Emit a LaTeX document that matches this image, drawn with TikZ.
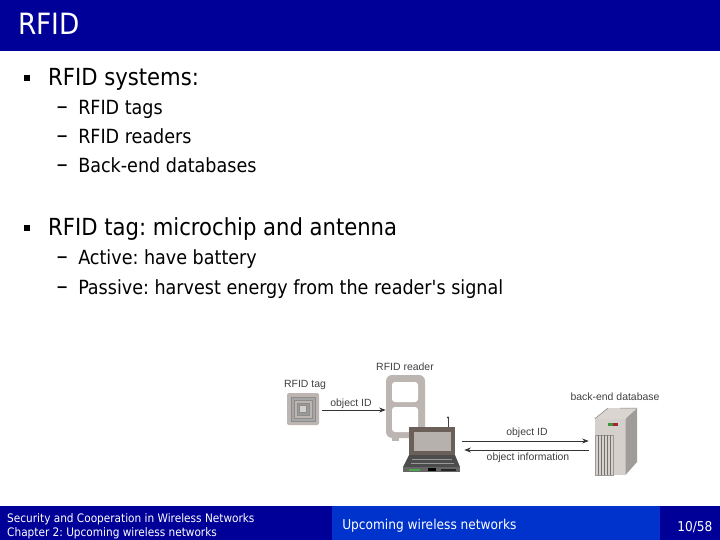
\documentclass[tikz,border=0pt]{standalone}
\usepackage{fontspec}
\setmainfont{DejaVu Sans Condensed}
\newfontfamily\figfont{Liberation Sans}
\usetikzlibrary{arrows.meta,positioning}
\definecolor{barblue}{HTML}{000099}
\definecolor{midblue}{HTML}{0033CC}
\definecolor{casegray}{HTML}{BDB5B1}
\definecolor{darkcase}{HTML}{6B5F5A}
\definecolor{palecase}{HTML}{D6D0CC}
\tikzset{
    >={Stealth[]},
    every picture/.style={line width=0.5pt},
    lvlone/.style={anchor=base west,inner sep=0pt,font=\fontsize{23.6}{26}\selectfont},
    lvltwo/.style={anchor=base west,inner sep=0pt,font=\fontsize{19.6}{22}\selectfont},
    dashmark/.style={anchor=base west,inner sep=0pt,font=\fontsize{25}{26}\selectfont},
    foot/.style={anchor=base west,inner sep=0pt,text=white,font=\fontsize{11.75}{14}\selectfont},
    figlabel/.style={inner sep=0pt,text=black!75,font=\figfont\fontsize{10.5}{12}\selectfont},
    square/.style={fill=black,minimum size=6bp,inner sep=0pt},
    link/.style={->,black!80,line width=0.8pt}
}

\begin{document}
\frenchspacing
\begin{tikzpicture}[x=1bp,y=-1bp]
        \useasboundingbox (0,0) rectangle (720,540);
        % Title bar
        \fill[barblue] (0,0) rectangle (720,51);
        \node[anchor=base west,inner sep=0pt,text=white,font=\fontsize{29.4}{32}\selectfont] (title) at (18,35) {RFID};

        % Footer
        \fill[barblue] (0,506) rectangle (720,540);
        \fill[midblue] (332,506) rectangle (660,540);
        \node[foot] (foota) at (7,522) {Security and Cooperation in Wireless Networks};
        \node[foot] (footb) at (7,536) {Chapter 2: Upcoming wireless networks};
        \node[foot,font=\fontsize{13.6}{16}\selectfont] (footc) at (342,529) {Upcoming wireless networks};
        \node[foot,font=\fontsize{13.6}{16}\selectfont] (footd) at (677,531) {10/58};

        % Bullets
        \node[square] (ba) at (26.5,78) {};
        \node[lvlone] (systems) at (48,86) {RFID systems:};
        \node[dashmark] at (56.5,115) {--};
        \node[lvltwo] (tags) at (78,115) {RFID tags};
        \node[dashmark] at (56.5,144) {--};
        \node[lvltwo] (readers) at (78,144) {RFID readers};
        \node[dashmark] at (56.5,173) {--};
        \node[lvltwo] (databases) at (78,173) {Back-end databases};
        \node[square] (bb) at (26.5,228) {};
        \node[lvlone] (chip) at (48,236) {RFID tag: microchip and antenna};
        \node[dashmark] at (56.5,265) {--};
        \node[lvltwo] (active) at (78,265) {Active: have battery};
        \node[dashmark] at (56.5,294) {--};
        \node[lvltwo] (passive) at (78,294) {Passive: harvest energy from the reader\textquotesingle s signal};

        % Tag
        \node[fill=casegray,rounded corners=2bp,minimum size=32bp,inner sep=0pt] (tag) at (303,409) {};
        \foreach \s/\c in {24/black!35,18/casegray,12/black!40,7/palecase}
            \node[fill=\c,draw=black!45,minimum size=\s bp,inner sep=0pt] at (tag) {};
        \node[figlabel] at (305,385) {RFID tag};

        % Reader
        \node[fill=casegray,rounded corners=6bp,minimum width=39bp,minimum height=63bp,inner sep=0pt] (reader) at (405.5,406.5) {};
        \node[fill=white,rounded corners=3bp,minimum width=26bp,minimum height=20bp,inner sep=0pt] (winup) at (405,392) {};
        \node[fill=white,rounded corners=3bp,minimum width=26bp,minimum height=25bp,inner sep=0pt] (windown) at (405,419.5) {};
        \fill[casegray] (392,438) rectangle (399,441);
        \node[figlabel] at (405,367) {RFID reader};

        % Laptop
        \node[minimum width=57bp,minimum height=45bp,inner sep=0pt] (laptop) at (431.5,449.5) {};
        \draw[black!75,line width=1pt] (448,427) -- (448,418);
        \fill[black!75] (448,417.5) circle (1.2);
        \fill[darkcase] (409,427) rectangle (455,455);
        \fill[palecase!85!black] (414,432) rectangle (451,451);
        \fill[black!70] (409,455) -- (455,455) -- (460,467) -- (403,467) -- cycle;
        \draw[black!40] (412,459) -- (452,459) (411,463) -- (454,463);
        \fill[black!60] (403,467) rectangle (460,472);
        \fill[green!50!black!70] (409,468.5) rectangle (420,471);
        \fill[black] (428,467.5) rectangle (436,471);
        \fill[black!85] (441,469) rectangle (456,470.5);

        % Server
        \node[fill=palecase,minimum width=30bp,minimum height=56bp,inner sep=0pt] (server) at (610,447) {};
        \fill[palecase!75!black] (server.north east) -- (637,408) -- (637,462) -- (server.south east) -- cycle;
        \fill[palecase!90!white] (server.north west) -- (608,408) -- (637,408) -- (server.north east) -- cycle;
        \draw[black!50] (server.north west) -- (608,408) (620,408) -- (637,408);
        \fill[green!45!black!75] (608,423) rectangle (613,426);
        \fill[red!60!black!85] (613,423) rectangle (618,426);
        \draw[black!40] (595,435) rectangle (613,475);
        \foreach \x in {598,601,604,607,610}
            \draw[black!55] (\x,435) -- (\x,475);
        \node[figlabel] at (615,397) {back-end database};

        % Links
        \draw[link] (tag) ++(19,1) coordinate (tagout) -- (tagout -| reader.west);
        \node[figlabel] at (351,404) {object ID};
        \draw[link] ([shift={(2,-8.5)}]laptop.east) -- ([shift={(-6,-8.5)}]laptop.east -| server.west);
        \node[figlabel] at (527,433) {object ID};
        \draw[link] ([shift={(-6,0.5)}]laptop.east -| server.west) -- ([shift={(4,0.5)}]laptop.east);
        \node[figlabel] at (528,458) {object information};
    \end{tikzpicture}
\end{document}
